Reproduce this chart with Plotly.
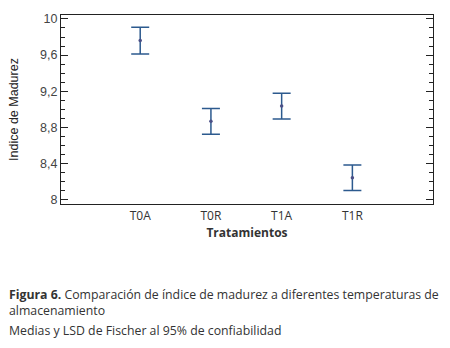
import plotly.graph_objects as go

categories = ["T0A", "T0R", "T1A", "T1R"]
means = [9.76, 8.865, 9.035, 8.24]
lsd_half = [0.148, 0.143, 0.143, 0.142]
y_ticks = [8, 8.4, 8.8, 9.2, 9.6, 10]

x_pos = list(range(len(categories)))
line_col = "#2c5a8e"
font_fam = "Open Sans, Noto Sans, sans-serif"
arial = "Liberation Sans, Arial, sans-serif"

fig = go.Figure()
fig.add_trace(go.Scatter(
    x=x_pos, y=means, mode="markers",
    marker=dict(size=3.5, color="#4b4f86", line=dict(width=0)),
    error_y=dict(type="data", array=lsd_half, visible=True,
                 color=line_col, thickness=1.5, width=9),
    showlegend=False, hoverinfo="skip",
))

fig.update_layout(
    width=450, height=348,
    margin=dict(l=61, r=17, t=13, b=144),
    paper_bgcolor="white", plot_bgcolor="white",
    separators=",.",
    font=dict(family=font_fam, size=12, color="#333333"),
    xaxis=dict(
        range=[-1.12, 4.14], tickmode="array", tickvals=x_pos, ticktext=categories,
        showline=True, linecolor="#222222", linewidth=1.2, mirror=True,
        showgrid=False, zeroline=False, ticks="",
        tickfont=dict(size=12, color="#333333"),
        title=dict(text="<b>Tratamientos</b>", font=dict(size=12, color="#333333"), standoff=6),
    ),
    yaxis=dict(
        range=[7.949, 10.044], tickmode="array", tickvals=y_ticks,
        ticktext=[("%g" % v).replace(".", ",") for v in y_ticks],
        showline=True, linecolor="#222222", linewidth=1.2, mirror="ticks",
        showgrid=False, zeroline=False, ticks="inside", ticklen=7, tickcolor="#222222",
        minor=dict(dtick=0.1, ticks="inside", ticklen=4, tickcolor="#222222", showgrid=False),
        tickfont=dict(size=12.5, color="#444444", family=arial),
        title=dict(text="Indice de Madurez", font=dict(size=12.5, color="#222222", family=arial), standoff=18),
    ),
)

cap_font = dict(size=12.3, color="#333333", family=font_fam)
fig.add_annotation(
    xref="paper", yref="paper", x=-54/372, y=-91/191, xanchor="left", yanchor="middle",
    text="<b>Figura 6.</b> Comparación de índice de madurez a diferentes temperaturas de",
    showarrow=False, font=cap_font, align="left",
)
fig.add_annotation(
    xref="paper", yref="paper", x=-54/372, y=-108/191, xanchor="left", yanchor="middle",
    text="almacenamiento",
    showarrow=False, font=cap_font, align="left",
)
fig.add_annotation(
    xref="paper", yref="paper", x=-54/372, y=-128/191, xanchor="left", yanchor="middle",
    text="Medias y LSD de Fischer al 95% de confiabilidad",
    showarrow=False, font=cap_font, align="left",
)

fig.write_html(
    "out.html",
    config={"displayModeBar": False},
    post_script="document.body.style.margin='0px';document.body.style.overflow='hidden';",
)
